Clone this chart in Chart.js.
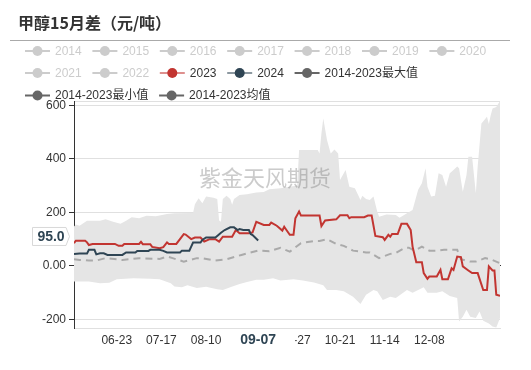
<!DOCTYPE html>
<html><head><meta charset="utf-8">
<script src="https://cdn.jsdelivr.net/npm/chart.js@4"></script>
<style>html,body{margin:0;padding:0;background:#fff}#wrap{width:531px;height:370px}</style>
</head><body><div id="wrap"><canvas id="c" width="531" height="370"></canvas></div>
<script>
const titleText = '甲醇15月差（元/吨）';
const watermarkText = '紫金天风期货';
const legendNames = ['2014','2015','2016','2017','2018','2019','2020','2021','2022','2023','2024','2014-2023最大值','2014-2023最小值','2014-2023均值'];
const tickDates = ['06-23','07-17','08-10','09-03','09-27','10-21','11-14','12-08'];
const yTicks = [-200, 0, 200, 400, 600];
const yMin = -232, yMax = 616;
const pointerDate = '09-07', pointerValue = 95.0;

const s2023 = [['05-31',85],['06-01',94],['06-06',94],['06-07',88],['06-08',78],['06-10',82],['06-22',82],['06-24',75],['06-26',75],['06-27',82],['07-05',82],['07-06',90],['07-07',81],['07-11',81],['07-12',71],['07-16',66],['07-18',70],['07-20',88],['07-21',82],['07-25',82],['07-29',119],['07-30',117],['08-02',100],['08-04',106],['08-07',106],['08-09',91],['08-12',100],['08-15',100],['08-17',91],['08-19',109],['08-24',109],['08-26',134],['08-28',122],['09-02',122],['09-04',125],['09-06',165],['09-10',153],['09-13',153],['09-14',162],['09-17',150],['09-20',132],['09-21',146],['09-22',136],['09-24',116],['09-26',116],['09-27',178],['09-29',203],['09-30',188],['10-10',188],['10-11',149],['10-13',170],['10-19',174],['10-21',189],['10-25',189],['10-26',178],['10-27',182],['11-03',182],['11-05',188],['11-07',188],['11-09',112],['11-13',107],['11-14',97],['11-16',116],['11-17',109],['11-18',119],['11-21',119],['11-23',157],['11-26',157],['11-28',134],['11-29',72],['12-01',14],['12-04',14],['12-05',-27],['12-07',-48],['12-08',-40],['12-12',-40],['12-14',-15],['12-15',-50],['12-18',-50],['12-20',-9],['12-21',-15],['12-23',35],['12-25',33],['12-26',-2],['12-29',-17],['12-31',-27],['01-03',-27],['01-06',-90],['01-08',-90],['01-09',-2],['01-11',-17],['01-12',-17],['01-13',-108],['01-15',-112]];
const s2024 = [['05-31',44],['06-03',46],['06-07',46],['06-08',60],['06-11',60],['06-12',43],['06-14',47],['06-16',47],['06-18',41],['06-26',41],['06-28',50],['07-03',50],['07-04',56],['07-10',56],['07-11',60],['07-16',60],['07-18',56],['07-20',50],['07-27',50],['07-28',57],['08-01',57],['08-02',72],['08-03',87],['08-07',87],['08-08',97],['08-10',106],['08-15',106],['08-16',112],['08-18',124],['08-20',134],['08-23',144],['08-25',144],['08-27',134],['08-28',138],['08-30',134],['09-02',134],['09-03',119],['09-04',115],['09-07',95]];
const sMax = [['05-31',147],['06-01',155],['06-03',150],['06-07',169],['06-14',169],['06-17',174],['06-21',165],['06-25',157],['06-28',169],['07-01',182],['07-05',178],['07-09',187],['07-14',185],['07-20',194],['07-24',197],['08-03',198],['08-04',230],['08-06',253],['08-08',234],['08-10',259],['08-14',255],['08-16',250],['08-17',170],['08-18',165],['08-19',250],['08-21',262],['08-23',250],['08-24',228],['08-25',250],['08-28',265],['09-01',268],['09-06',274],['09-10',276],['09-13',286],['09-19',290],['09-24',296],['09-28',300],['09-29',433],['10-09',433],['10-10',420],['10-11',495],['10-12',551],['10-14',470],['10-16',420],['10-18',435],['10-20',420],['10-21',321],['10-24',358],['10-26',296],['10-29',290],['11-01',246],['11-02',262],['11-04',250],['11-06',246],['11-08',259],['11-10',203],['11-11',184],['11-15',192],['11-20',190],['11-22',180],['11-26',197],['11-29',209],['12-02',284],['12-04',309],['12-06',365],['12-07',296],['12-09',259],['12-11',262],['12-13',346],['12-15',340],['12-17',296],['12-19',346],['12-21',358],['12-23',371],['12-24',365],['12-26',277],['12-28',340],['12-29',408],['12-31',408],['01-02',271],['01-03',371],['01-05',532],['01-08',557],['01-09',530],['01-10',563],['01-11',588],['01-13',594],['01-15',616]];
const sMin = [['05-31',-58],['06-08',-58],['06-14',-65],['06-19',-63],['06-23',-50],['07-02',-46],['07-11',-48],['07-16',-50],['07-22',-65],['07-24',-77],['07-28',-80],['07-31',-72],['08-05',-83],['08-10',-78],['08-16',-87],['08-19',-90],['08-23',-80],['08-28',-68],['09-01',-60],['09-06',-52],['09-10',-52],['09-15',-46],['09-19',-55],['09-26',-50],['10-01',-55],['10-07',-62],['10-12',-72],['10-14',-90],['10-19',-90],['10-23',-95],['10-28',-115],['11-01',-142],['11-04',-108],['11-08',-90],['11-10',-95],['11-13',-127],['11-17',-115],['11-20',-120],['11-26',-90],['11-29',-100],['12-05',-80],['12-07',-100],['12-12',-100],['12-15',-95],['12-19',-112],['12-23',-120],['12-24',-208],['12-26',-190],['12-28',-164],['12-30',-190],['01-02',-195],['01-04',-170],['01-06',-205],['01-09',-215],['01-11',-226],['01-13',-230],['01-15',-195]];
const sMean = [['05-31',25],['06-03',22],['06-08',20],['06-12',20],['06-17',29],['06-26',22],['07-05',29],['07-16',26],['07-20',35],['07-23',29],['07-29',16],['08-05',29],['08-08',29],['08-15',20],['08-21',25],['08-29',41],['09-07',57],['09-13',55],['09-19',68],['09-24',53],['09-30',85],['10-07',93],['10-10',93],['10-14',100],['10-19',82],['10-23',75],['10-28',57],['11-04',50],['11-06',50],['11-11',29],['11-17',45],['11-20',48],['11-25',68],['11-27',68],['11-30',57],['12-04',72],['12-08',57],['12-12',57],['12-16',60],['12-23',60],['12-25',25],['12-30',16],['01-02',16],['01-07',29],['01-10',25],['01-15',10]];

// day categories of the season axis (05-31 .. 01-15)
const dates = [];
const dayIndex = {};
(function(){
  const d = new Date(2023, 4, 31);
  for (let i = 0; i < 230; i++) {
    const s = String(d.getMonth()+1).padStart(2,'0') + '-' + String(d.getDate()).padStart(2,'0');
    dates.push(s); dayIndex[s] = i;
    d.setDate(d.getDate()+1);
  }
})();
const toXY = arr => arr.map(p => ({x: dayIndex[p[0]], y: p[1]}));

const FONT = '"Liberation Sans", "Noto Sans CJK SC", sans-serif';
const C2023 = '#c23531', C2024 = '#2f4554', CGRAY = '#666666';

const datasets = [];
legendNames.slice(0, 9).forEach(n => datasets.push({label: n, data: [], hidden: true, legendColor: '#cccccc'}));
datasets.push({label: legendNames[9], data: toXY(s2023), borderColor: C2023, borderWidth: 2, order: 1, legendColor: C2023});
datasets.push({label: legendNames[10], data: toXY(s2024), borderColor: C2024, borderWidth: 2, order: 0, legendColor: C2024});
datasets.push({label: legendNames[11], data: toXY(sMax), borderWidth: 0, borderColor: 'rgba(0,0,0,0)', backgroundColor: '#e5e5e5', fill: 'origin', order: 4, legendColor: CGRAY});
datasets.push({label: legendNames[12], data: toXY(sMin), borderWidth: 0, borderColor: 'rgba(0,0,0,0)', backgroundColor: '#e5e5e5', fill: 'origin', order: 5, legendColor: CGRAY});
datasets.push({label: legendNames[13], data: toXY(sMean), borderColor: '#aaaaaa', borderWidth: 2, borderDash: [7, 5], order: 2, legendColor: CGRAY});
datasets.forEach(d => { d.pointRadius = 0; d.tension = 0; if (d.fill === undefined) d.fill = false; });

const decor = {
  id: 'decor',
  afterDatasetsDraw(chart) {
    const ctx = chart.ctx;
    ctx.save();
    ctx.font = '22px "Noto Sans CJK SC", sans-serif';
    ctx.fillStyle = 'rgba(110,110,110,0.36)';
    ctx.textAlign = 'center'; ctx.textBaseline = 'middle';
    ctx.fillText(watermarkText, 265, 178);
    ctx.restore();
  },
  afterDraw(chart) {
    const ctx = chart.ctx;
    ctx.save();
    // title
    ctx.font = 'bold 16px "Noto Sans CJK SC", sans-serif';
    ctx.fillStyle = '#333'; ctx.textBaseline = 'middle'; ctx.textAlign = 'left';
    ctx.fillText(titleText, 18, 23);
    ctx.strokeStyle = '#aaa'; ctx.lineWidth = 1;
    ctx.beginPath(); ctx.moveTo(10, 40.5); ctx.lineTo(510, 40.5); ctx.stroke();
    // legend
    ctx.font = '12px ' + FONT;
    const rows = [51, 73, 95.5];
    let row = 0, x = 25;
    chart.data.datasets.forEach(ds => {
      const tw = ctx.measureText(ds.label).width;
      const w = 25 + 5 + tw;
      if (x + w > 512) { row++; x = 25; }
      const y = rows[row];
      const active = !ds.hidden;
      const col = ds.legendColor;
      ctx.globalAlpha = active && (ds.label === '2023' || ds.label === '2024') ? 0.55 : 1;
      ctx.strokeStyle = col; ctx.lineWidth = 2;
      ctx.beginPath(); ctx.moveTo(x, y); ctx.lineTo(x + 25, y); ctx.stroke();
      ctx.globalAlpha = 1;
      ctx.fillStyle = col;
      ctx.beginPath(); ctx.arc(x + 12.5, y, 5, 0, Math.PI * 2); ctx.fill();
      ctx.fillStyle = active ? '#333' : '#cccccc';
      ctx.textAlign = 'left'; ctx.textBaseline = 'middle';
      ctx.fillText(ds.label, x + 30, y + 0.5);
      x += w + 10.7;
    });
    // axis pointer labels
    const ys = chart.scales.y, xs = chart.scales.x;
    const py = ys.getPixelForValue(pointerValue) - 4;
    ctx.fillStyle = '#fff'; ctx.strokeStyle = '#d8d8d8'; ctx.lineWidth = 1;
    ctx.beginPath();
    ctx.moveTo(32.5, py - 9); ctx.lineTo(66, py - 9); ctx.lineTo(69.5, py); ctx.lineTo(66, py + 9); ctx.lineTo(32.5, py + 9); ctx.closePath();
    ctx.fill(); ctx.stroke();
    ctx.font = 'bold 14px ' + FONT;
    ctx.fillStyle = C2024; ctx.textAlign = 'center'; ctx.textBaseline = 'middle';
    ctx.fillText(pointerValue.toFixed(1), 51, py + 0.5);
    const px = xs.getPixelForValue(dayIndex[pointerDate]);
    ctx.fillStyle = '#fff';
    ctx.fillRect(px - 34, 331, 71, 19);
    ctx.fillStyle = C2024;
    ctx.fillText(pointerDate, px, 340.5);
    ctx.restore();
  }
};

const tickBuilder = s => { s.ticks = tickDates.map(d => ({value: dayIndex[d]})); };

new Chart(document.getElementById('c'), {
  type: 'line',
  data: { datasets },
  plugins: [decor],
  options: {
    responsive: false, animation: false, devicePixelRatio: 1,
    layout: { padding: { top: 101, right: 31, left: 0, bottom: 0 } },
    plugins: { legend: { display: false }, title: { display: false }, tooltip: { enabled: false } },
    scales: {
      x: {
        type: 'linear', min: 0, max: 229, position: 'bottom',
        afterBuildTicks: tickBuilder,
        ticks: { callback: v => dates[v], font: { size: 12, family: FONT }, color: '#333', padding: 5, maxRotation: 0, autoSkip: false },
        grid: { drawOnChartArea: false, drawTicks: false },
        border: { color: '#e0e0e0' },
        afterFit: s => { s.height = 42; }
      },
      x2: {
        type: 'linear', min: 0, max: 229, position: { y: 0 }, z: 1,
        afterBuildTicks: tickBuilder,
        ticks: { display: false },
        grid: { drawOnChartArea: false, drawTicks: true, tickLength: 5, color: '#333' },
        border: { color: '#333' }
      },
      y: {
        min: yMin, max: yMax,
        afterBuildTicks: s => { s.ticks = [yMin, ...yTicks, yMax].map(v => ({value: v})); },
        ticks: { callback: v => v === 0 ? '0.00' : (yTicks.includes(v) ? String(v) : ''), font: { size: 12, family: FONT }, color: '#333', padding: 3 },
        grid: { color: c => (c.tick && c.tick.value === 0) ? 'rgba(0,0,0,0)' : '#e0e0e0',
                tickColor: c => (c.tick && yTicks.includes(c.tick.value)) ? '#333' : 'rgba(0,0,0,0)', tickLength: 5 },
        border: { color: '#333' },
        afterFit: s => { s.width = 74; }
      }
    }
  }
});
</script>
</body></html>
